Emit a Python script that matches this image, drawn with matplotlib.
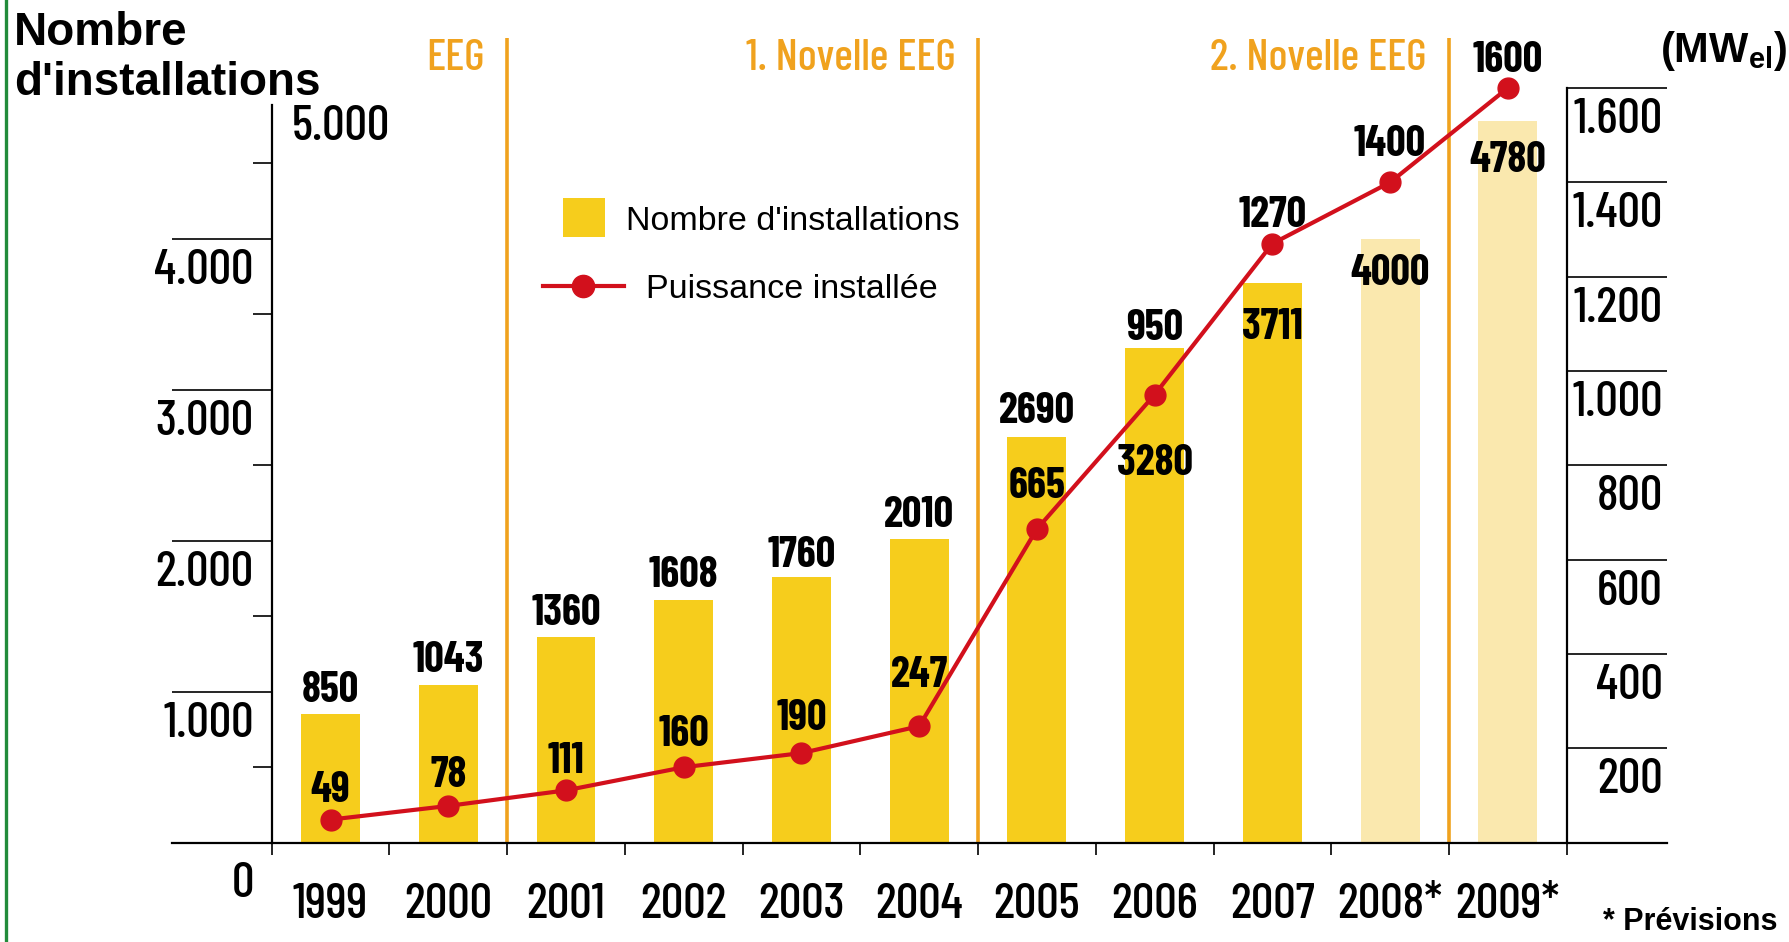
import matplotlib
matplotlib.use('Agg')
import matplotlib.pyplot as plt
from matplotlib.lines import Line2D
from matplotlib.patches import Rectangle
import numpy as np

# ---------------- data ----------------
years = ['1999', '2000', '2001', '2002', '2003', '2004', '2005', '2006', '2007', '2008*', '2009*']
installations = [850, 1043, 1360, 1608, 1760, 2010, 2690, 3280, 3711, 4000, 4780]
power_mw = [49, 78, 111, 160, 190, 247, 665, 950, 1270, 1400, 1600]
is_forecast = [False] * 9 + [True, True]
eras = ['EEG', '1. Novelle EEG', '2. Novelle EEG']
era_last_year_idx = [1, 5, 9]          # last category before each EEG boundary
left_ticks = [0, 1000, 2000, 3000, 4000, 5000]
left_tick_labels = ['0', '1.000', '2.000', '3.000', '4.000', '5.000']
left_minor = [500, 1500, 2500, 3500, 4500]
right_ticks = [200, 400, 600, 800, 1000, 1200, 1400, 1600]
right_tick_labels = ['200', '400', '600', '800', '1.000', '1.200', '1.400', '1.600']

# label offsets (pixels) relative to bar top / line point
bar_label_dy = [24, 25, 24, 24, 22, 24, 25, -116, -45, -35, -39]
line_label_dy = [29, 30, 29, 33, 35, 51, 43, 66, 28, 38, 28]

# ---------------- style ----------------
YELLOW = '#F6CD1C'
LIGHT = '#FAE8AE'
RED = '#D2101C'
ORANGE = '#F0A21E'
GREEN = '#228B3B'
NARROW = ['Barlow Condensed', 'Roboto Condensed', 'DejaVu Sans']
SANS = ['Liberation Sans', 'DejaVu Sans']
TICK_FS = 36
LABEL_FS = 31

plt.rcParams['mathtext.fontset'] = 'custom'
plt.rcParams['mathtext.rm'] = 'Liberation Sans'
plt.rcParams['mathtext.bf'] = 'Liberation Sans:bold'

W, H = 1789, 942
fig = plt.figure(figsize=(W / 100, H / 100), dpi=100)
fig.patch.set_facecolor('white')


def fx(px):
    return px / W


def fy(py):
    return 1 - py / H


X0, X1, Y0, YT = 271.7, 1566.7, 842.7, 88.0
ax = fig.add_axes([fx(X0), fy(Y0), (X1 - X0) / W, (Y0 - YT) / H])
ax2 = ax.twinx()
ax.set_zorder(1)
ax2.set_zorder(2)
ax.patch.set_visible(False)

x = np.arange(len(years))
LTOP = 5000
RTOP = 1600
ppx_left = (Y0 - YT) / LTOP          # px per unit left
cat_px = (X1 - X0) / len(years)

# bars
colors = [LIGHT if f else YELLOW for f in is_forecast]
bars = ax.bar(x, installations, width=0.5, color=colors, zorder=2)

# EEG boundaries
bounds = [i + 0.5 for i in era_last_year_idx]
ax.vlines(bounds, 0, (Y0 - 38) / ppx_left, color=ORANGE, lw=2.6, clip_on=False, zorder=1)
for b, name in zip(bounds, eras):
    ax.annotate(name, xy=(b, (Y0 - 58) / ppx_left), xytext=(-22, 0), textcoords='offset pixels',
                ha='right', va='center', fontsize=32, fontweight='medium', color=ORANGE,
                family=NARROW, annotation_clip=False)

# line
ax2.plot(x, power_mw, color=RED, lw=3, marker='o', ms=15, zorder=5, clip_on=False)

# bar labels
for xi, v, dy in zip(x, installations, bar_label_dy):
    ax.annotate(f'{v}', xy=(xi, v), xytext=(0, dy), textcoords='offset pixels',
                ha='center', va='center', fontsize=LABEL_FS, fontweight='bold', family=NARROW,
                annotation_clip=False, zorder=6)
for xi, v, dy in zip(x, power_mw, line_label_dy):
    ax2.annotate(f'{v}', xy=(xi, v), xytext=(0, dy), textcoords='offset pixels',
                 ha='center', va='center', fontsize=LABEL_FS, fontweight='bold', family=NARROW,
                 annotation_clip=False, zorder=6)

# spines
for s in ['top', 'right', 'bottom']:
    ax.spines[s].set_visible(False)
for s in ['top', 'left', 'bottom']:
    ax2.spines[s].set_visible(False)
ax.spines['left'].set_bounds(0, (Y0 - 105) / ppx_left)
ax.spines['left'].set_linewidth(1.6)
ax2.spines['right'].set_bounds(0, 1600)
ax2.spines['right'].set_linewidth(1.6)

# extended bottom axis line
ext_l = -0.5 - (X0 - 172) / cat_px
ext_r = len(years) - 0.5 + (1667 - X1) / cat_px
ax.plot([ext_l, ext_r], [0, 0], color='black', lw=1.6, clip_on=False, zorder=7)

# axes limits
ax.set_xlim(-0.5, len(years) - 0.5)
ax.set_ylim(0, LTOP)
ax2.set_ylim(0, RTOP)

# left ticks
ax.set_yticks(left_ticks[:-1])
ax.set_yticks(left_minor, minor=True)
ax.tick_params(axis='y', which='major', direction='out', length=72, width=1.2, labelleft=False)
ax.tick_params(axis='y', which='minor', direction='out', length=13.7, width=1.2, labelleft=False)
for v, lab in zip(left_ticks, left_tick_labels):
    if v == 5000:
        off, ha = (20, -17), 'left'
    elif v == 0:
        off, ha = (-18, -19), 'right'
    else:
        off, ha = (-18, -10), 'right'
    ax.annotate(lab, xy=(-0.5, v), xytext=off, textcoords='offset pixels', ha=ha, va='top',
                fontsize=TICK_FS, fontweight='medium', family=NARROW, annotation_clip=False)

# x ticks
ax.set_xticks(x)
ax.set_xticklabels(years, fontsize=TICK_FS, fontweight='medium', family=NARROW)
ax.set_xticks(np.arange(-0.5, len(years)), minor=True)
ax.tick_params(axis='x', which='major', length=0, pad=29)
ax.tick_params(axis='x', which='minor', direction='out', length=8.6, width=1.2)

# right ticks
ax2.set_yticks(right_ticks)
ax2.tick_params(axis='y', which='major', direction='out', length=72, width=1.2, labelright=False)
for v, lab in zip(right_ticks, right_tick_labels):
    ax2.annotate(lab, xy=(len(years) - 0.5, v), xytext=(96, -10), textcoords='offset pixels',
                 ha='right', va='top', fontsize=TICK_FS, fontweight='medium', family=NARROW,
                 annotation_clip=False)

# legend (manual)
fig.add_artist(Rectangle((fx(563), fy(237)), 42 / W, 39 / H, transform=fig.transFigure,
                         facecolor=YELLOW, edgecolor='none'))
fig.text(fx(626), fy(222), "Nombre d'installations", fontsize=24.5, family=SANS, va='center', ha='left')
fig.add_artist(Line2D([fx(543), fx(624)], [fy(286), fy(286)], color=RED, lw=3,
                      transform=fig.transFigure))
fig.add_artist(Line2D([fx(583)], [fy(286)], color=RED, marker='o', ms=16, lw=0,
                      transform=fig.transFigure))
fig.text(fx(646), fy(289), 'Puissance installée', fontsize=24.5, family=SANS, va='center', ha='left')

# titles / notes
fig.text(fx(14), fy(11), "Nombre\nd'installations", fontsize=33, fontweight='bold', family=SANS,
         va='top', ha='left', linespacing=1.18)
fig.text(fx(1660), fy(62), r'$\mathbf{(MW_{el})}$', fontsize=30, va='baseline', ha='left')
fig.text(fx(1603), fy(922), '* Prévisions', fontsize=22, fontweight='bold', family=SANS,
         va='center', ha='left')

# green left border
fig.add_artist(Line2D([fx(5.5), fx(5.5)], [0, 1], color=GREEN, lw=2.4, transform=fig.transFigure))

fig.savefig('out.png', dpi=100)
